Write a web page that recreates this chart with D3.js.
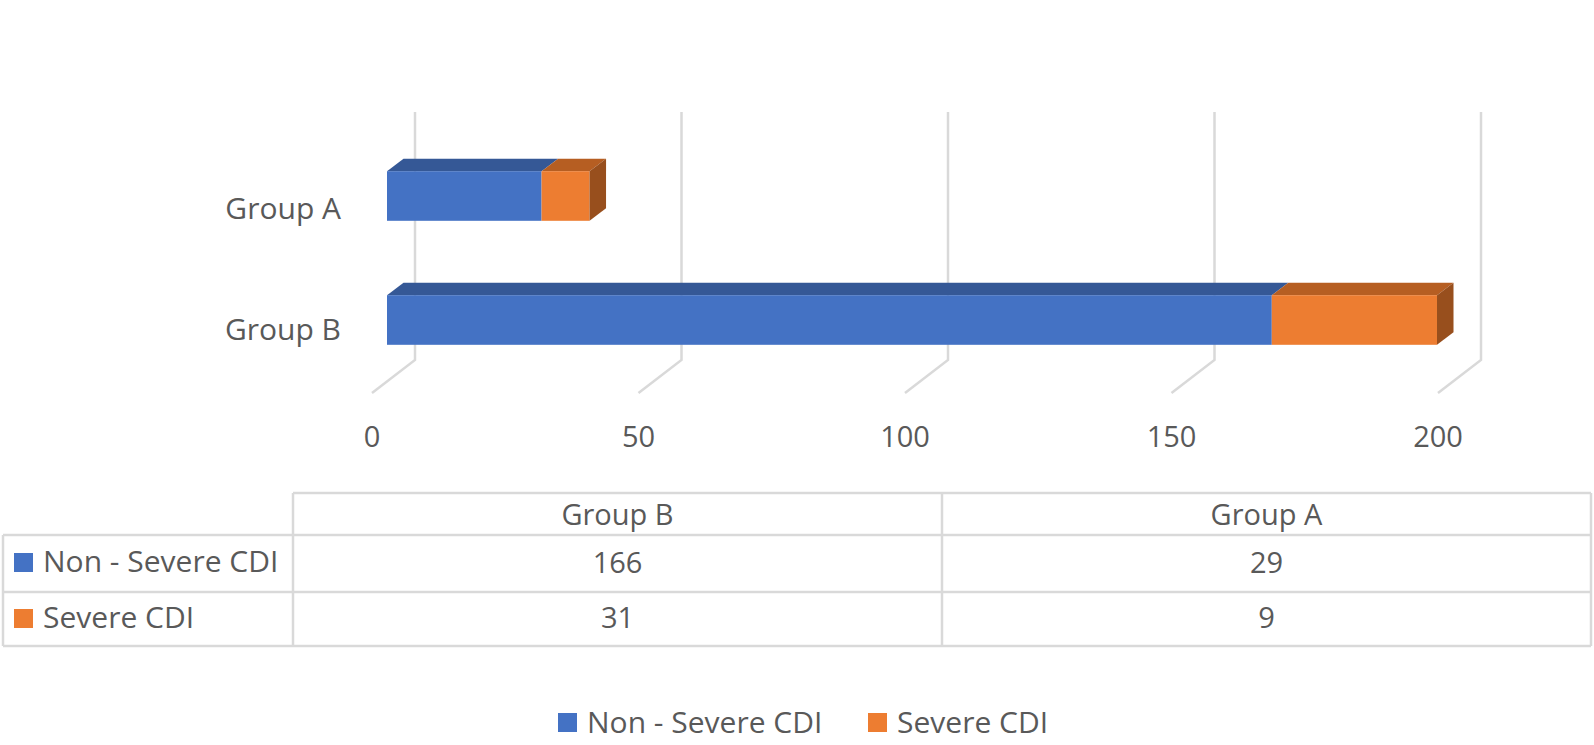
<!DOCTYPE html>
<html>
<head>
<meta charset="utf-8">
<script src="https://cdn.jsdelivr.net/npm/d3@7"></script>
<style>
  html, body { margin: 0; padding: 0; background: #fff; }
  svg { display: block; }
  text { font-family: "Open Sans", sans-serif; fill: #595959; }
</style>
</head>
<body>
<script>
// ---- data ----
const categories = ["Group B", "Group A"];           // table column order (Excel order)
const seriesNames = ["Non - Severe CDI", "Severe CDI"];
const nonSevere = [166, 29];
const severe = [31, 9];
const tickValues = [0, 50, 100, 150, 200];

const colors = {
  front: ["#4472C4", "#ED7D31"],
  top: ["#355896", "#B65E22"],
  side: ["#2E4E86", "#984F1D"]
};

const W = 1594, H = 745;
const svg = d3.select("body").append("svg").attr("width", W).attr("height", H);

// scales
const x = d3.scaleLinear().domain([0, 200]).range([0, 1066]);
const barX0 = 387;      // front plane of bars
const backX0 = 415;     // back wall of grid
const floorX0 = 372;    // front edge of floor
const gridTop = 112, gridBottom = 360, floorY = 393;
const dx = 16.5, dy = -12.5;  // bar depth offsets

// y positions of categories (top to bottom: Group A, Group B)
const y = d3.scaleBand().domain(["Group A", "Group B"]).range([134, 382]).paddingInner(0.6).paddingOuter(0.3);

const grid = svg.append("g");
tickValues.forEach(t => {
  grid.append("path")
    .attr("d", `M${backX0 + x(t)},${gridTop} L${backX0 + x(t)},${gridBottom} L${floorX0 + x(t)},${floorY}`)
    .attr("fill", "none").attr("stroke", "#D9D9D9").attr("stroke-width", 2.5);
  svg.append("text").attr("x", floorX0 + x(t)).attr("y", 447)
    .attr("text-anchor", "middle").attr("font-size", 29).text(t);
});

// bars
const stacks = categories.map((c, i) => ({ cat: c, vals: [nonSevere[i], severe[i]] }));
const bars = svg.append("g");
stacks.forEach(s => {
  const y0 = y(s.cat), h = y.bandwidth();
  let acc = 0;
  const segs = s.vals.map((v, k) => { const seg = { a: acc, b: acc + v, k }; acc += v; return seg; });
  // top faces
  segs.forEach(g => {
    const xa = barX0 + x(g.a), xb = barX0 + x(g.b);
    bars.append("path")
      .attr("d", `M${xa},${y0} L${xa + dx},${y0 + dy} L${xb + dx},${y0 + dy} L${xb},${y0} Z`)
      .attr("fill", colors.top[g.k]);
  });
  // front faces
  segs.forEach(g => {
    bars.append("rect")
      .attr("x", barX0 + x(g.a)).attr("y", y0)
      .attr("width", x(g.b) - x(g.a)).attr("height", h)
      .attr("fill", colors.front[g.k]);
  });
  // side of last segment
  const last = segs[segs.length - 1];
  const xe = barX0 + x(last.b);
  bars.append("path")
    .attr("d", `M${xe},${y0} L${xe + dx},${y0 + dy} L${xe + dx},${y0 + h + dy} L${xe},${y0 + h} Z`)
    .attr("fill", colors.side[last.k]);
});

// category labels
const catLabelBaseline = { "Group A": 219, "Group B": 340 };
["Group A", "Group B"].forEach(c => {
  svg.append("text").attr("x", 341).attr("y", catLabelBaseline[c])
    .attr("text-anchor", "end").attr("font-size", 30).text(c);
});

// data table
const tbl = svg.append("g").attr("stroke", "#D9D9D9").attr("stroke-width", 2.5).attr("fill", "none");
const tLeft = 3, tCol1 = 293, tRight = 1591;
const colX = [tCol1, 942, tRight];
const rowY = [493, 535, 592, 646];
tbl.append("line").attr("x1", tCol1).attr("x2", tRight).attr("y1", rowY[0]).attr("y2", rowY[0]);
[1, 2, 3].forEach(r => tbl.append("line").attr("x1", tLeft).attr("x2", tRight).attr("y1", rowY[r]).attr("y2", rowY[r]));
tbl.append("line").attr("x1", tLeft).attr("x2", tLeft).attr("y1", rowY[1]).attr("y2", rowY[3]);
colX.forEach(cx => tbl.append("line").attr("x1", cx).attr("x2", cx).attr("y1", rowY[0]).attr("y2", rowY[3]));

categories.forEach((c, i) => {
  const cx = (colX[i] + colX[i + 1]) / 2;
  svg.append("text").attr("x", cx).attr("y", 525).attr("text-anchor", "middle").attr("font-size", 29).text(c);
  svg.append("text").attr("x", cx).attr("y", 573).attr("text-anchor", "middle").attr("font-size", 29).text(nonSevere[i]);
  svg.append("text").attr("x", cx).attr("y", 628).attr("text-anchor", "middle").attr("font-size", 29).text(severe[i]);
});
const rowBase = [572, 628];
seriesNames.forEach((n, k) => {
  svg.append("rect").attr("x", 14).attr("y", rowBase[k] - 19).attr("width", 19).attr("height", 19).attr("fill", colors.front[k]);
  svg.append("text").attr("x", 43).attr("y", rowBase[k]).attr("font-size", 30).text(n);
});

// bottom legend
const legX = [558, 868];
seriesNames.forEach((n, k) => {
  svg.append("rect").attr("x", legX[k]).attr("y", 713).attr("width", 19).attr("height", 19).attr("fill", colors.front[k]);
  svg.append("text").attr("x", legX[k] + 29).attr("y", 733).attr("font-size", 30).text(n);
});
</script>
</body>
</html>
